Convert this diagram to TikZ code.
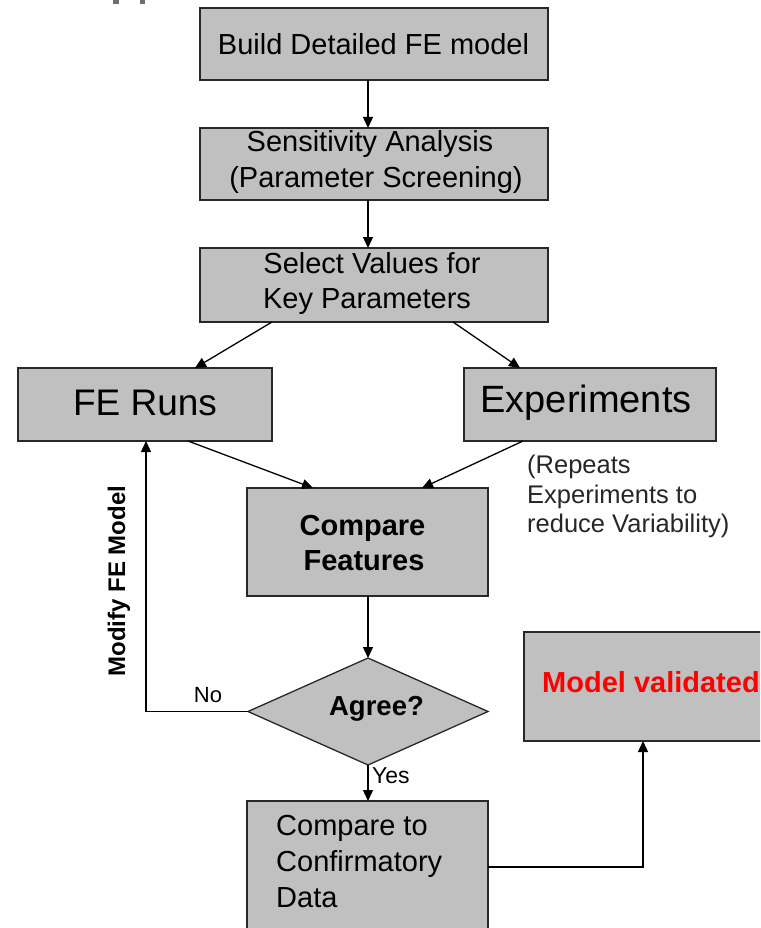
\documentclass[tikz,border=0pt]{standalone}
\usepackage{fontspec}
\setmainfont{Liberation Sans}
\usetikzlibrary{arrows.meta,shapes.geometric}
\definecolor{boxgray}{RGB}{192,192,192}
\definecolor{edgegray}{RGB}{40,40,40}
\definecolor{fraggray}{RGB}{110,110,110}
\begin{document}
\begin{tikzpicture}[x=1pt,y=-1pt,
  box/.style={draw=edgegray,line width=1.3pt,fill=boxgray,inner sep=0pt,outer sep=0pt},
  txt/.style={anchor=base,inner sep=0pt,font=\fontsize{29}{35}\selectfont},
  ltxt/.style={txt,anchor=base west},
  btxt/.style={txt,font=\fontsize{29}{35}\selectfont\bfseries},
  flow/.style={-{Triangle[length=11pt,width=10pt]},line width=1.3pt,black},
]
\useasboundingbox (0,0) rectangle (760,928);
\clip (0,0) rectangle (760,928);

% remains of the heading above the chart
\fill[fraggray] (113,0) rectangle (119,4);
\fill[fraggray] (140,0) rectangle (145,4);

% process boxes
\node[box,minimum width=348pt,minimum height=72pt] (b1) at (374,44) {};
\node[box,minimum width=348pt,minimum height=72pt] (b2) at (374,164) {};
\node[box,minimum width=348pt,minimum height=74pt] (b3) at (374,285) {};
\node[box,minimum width=254pt,minimum height=73pt] (fe) at (145,404.5) {};
\node[box,minimum width=252pt,minimum height=73pt] (exp) at (590,404.5) {};
\node[box,minimum width=241pt,minimum height=108pt] (cf) at (367.5,542) {};
\node[box,shape=diamond,minimum width=240pt,minimum height=107pt] (ag) at (368,711.5) {};
\node[box,minimum width=241pt,minimum height=132pt] (conf) at (367.5,867) {};
\node[box,minimum width=256pt,minimum height=109pt] (mv) at (652,686.5) {};

% box texts
\node[txt] (t1) at (373.5,55) {Build Detailed FE model};
\node[txt] (t2a) at (370,152) {Sensitivity Analysis};
\node[txt] (t2b) at (376,187) {(Parameter Screening)};
\node[txt] (t3a) at (372,273) {Select Values for};
\node[txt] (t3b) at (367,308) {Key Parameters};
\node[txt,font=\fontsize{37}{44}\selectfont] (tfe) at (145,415) {FE Runs};
\node[txt,font=\fontsize{38}{45}\selectfont] (texp) at (586,412) {Experiments};
\node[btxt] (tcf1) at (362.5,535) {Compare};
\node[btxt] (tcf2) at (364,570) {Features};
\node[btxt,font=\fontsize{27.5}{33}\selectfont\bfseries] (tag) at (376.5,715) {Agree?};
\node[ltxt] (tc1) at (276,835) {Compare to};
\node[ltxt] (tc2) at (276,871) {Confirmatory};
\node[ltxt] (tc3) at (276,907) {Data};
\node[ltxt,font=\fontsize{29}{35}\selectfont\bfseries,text=red] (tmv) at (542,692) {Model validated};

% side notes
\node[ltxt,font=\fontsize{25.5}{30}\selectfont,text=black!85] (r1) at (527,473) {(Repeats};
\node[ltxt,font=\fontsize{25.5}{30}\selectfont,text=black!85] (r2) at (527,503) {Experiments to};
\node[ltxt,font=\fontsize{25.5}{30}\selectfont,text=black!85] (r3) at (527,532) {reduce Variability)};
\node[inner sep=0pt,rotate=90,font=\fontsize{24}{28}\selectfont\bfseries] (mod) at (119,581) {Modify FE Model};
\node[txt,font=\fontsize{22}{26}\selectfont] (no) at (208,702) {No};
\node[ltxt,font=\fontsize{23}{27}\selectfont] (yes) at (372,783) {Yes};

% connectors
\draw[flow] ([xshift=-6pt]b1.south) -- ([xshift=-6pt]b2.north);
\draw[flow] ([xshift=-6pt]b2.south) -- ([xshift=-6pt]b3.north);
\draw[flow] ([xshift=72pt]b3.south west) -- ([xshift=177pt]fe.north west);
\draw[flow] ([xshift=253pt]b3.south west) -- ([xshift=56pt]exp.north west);
\draw[flow] ([xshift=170pt]fe.south west) -- ([xshift=66pt]cf.north west);
\draw[flow] ([xshift=59pt]exp.south west) -- ([xshift=175pt]cf.north west);
\draw[flow] ([xshift=0.5pt]cf.south) -- (ag.north);
\draw[flow] (ag.west) -| ([xshift=128pt]fe.south west);
\draw[flow] (ag.south) -- (ag.south |- conf.north);
\draw[flow] (conf.east) -| ([xshift=119pt]mv.south west);
\end{tikzpicture}
\end{document}
